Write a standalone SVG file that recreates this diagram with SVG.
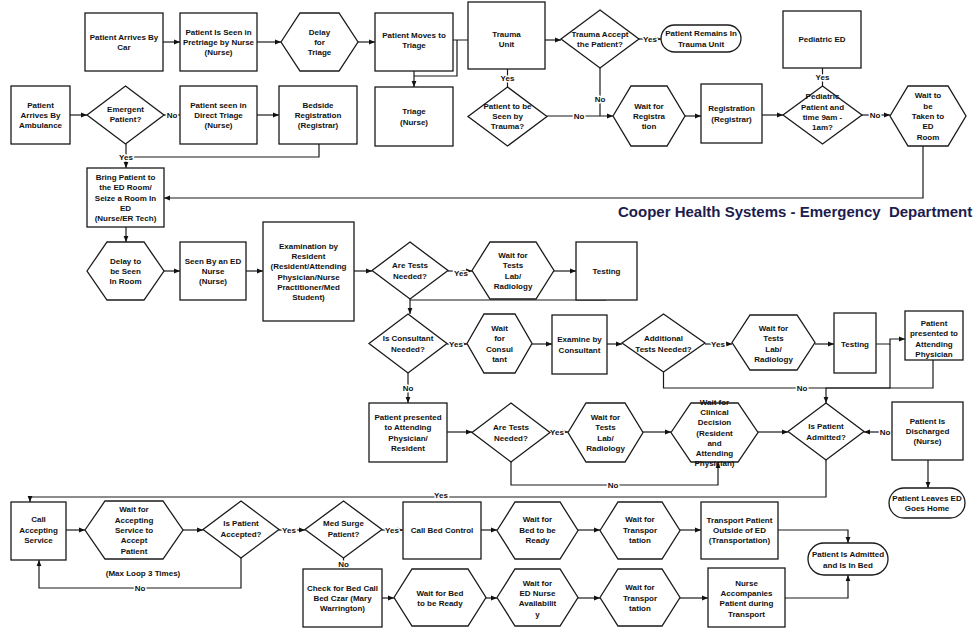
<svg xmlns="http://www.w3.org/2000/svg" width="976" height="628" viewBox="0 0 976 628">
<defs>
<marker id="ah" viewBox="0 0 10 10" refX="10" refY="5" markerWidth="6" markerHeight="6" markerUnits="userSpaceOnUse" orient="auto"><path d="M0,1 L10,5 L0,9 z" fill="#111"/></marker>
<style>
.b{fill:#fff;stroke:#1a1a1a;stroke-width:1.3}
.t{font-family:"Liberation Sans",Arial,sans-serif;font-size:8px;font-weight:bold;fill:#111;text-anchor:middle}
.c{fill:none;stroke:#1a1a1a;stroke-width:1.2}
.a{marker-end:url(#ah)}
.l{font-family:"Liberation Sans",Arial,sans-serif;font-size:8px;font-weight:bold;fill:#111;text-anchor:middle;paint-order:stroke;stroke:#fff;stroke-width:3px;stroke-linejoin:round}
.title{font-family:"Liberation Sans",Arial,sans-serif;font-size:15px;font-weight:bold;fill:#1c1c4e}
</style>
</defs>
<rect width="976" height="628" fill="#fff"/>

<!-- connectors -->
<g id="connectors">
<path class="c a" d="M163,42H180"/>
<path class="c a" d="M257,42H281"/>
<path class="c a" d="M358,42H375"/>
<path class="c a" d="M414,71V87"/>
<path class="c" d="M453,40H468M457,40V76H414"/>
<path class="c a" d="M545,40H561"/>
<path class="c a" d="M639,39H661"/>
<path class="c" d="M600,68V116"/>
<path class="c a" d="M547,116H613"/>
<path class="c" d="M507.5,87V69"/>
<path class="c a" d="M685,116H701"/>
<path class="c a" d="M762,115H783"/>
<path class="c" d="M822.5,86V68"/>
<path class="c a" d="M862,115H890"/>
<path class="c a" d="M923,146V198H164"/>
<path class="c a" d="M70,115H87"/>
<path class="c a" d="M164,115H180"/>
<path class="c a" d="M257,115H279"/>
<path class="c a" d="M126,144V168"/>
<path class="c" d="M319,144V157H130"/>
<path class="c a" d="M126,227V242"/>
<path class="c a" d="M164,271H180"/>
<path class="c a" d="M246,271H263"/>
<path class="c a" d="M354,271H372"/>
<path class="c a" d="M448,271H472"/>
<path class="c a" d="M554,271H576"/>
<path class="c" d="M606,300H410"/>
<path class="c a" d="M410,299V314"/>
<path class="c a" d="M447,344H467"/>
<path class="c a" d="M532,344H552"/>
<path class="c a" d="M607,344H622"/>
<path class="c a" d="M705,344H732"/>
<path class="c a" d="M815,344H834"/>
<path class="c a" d="M876,344H890V339H905"/>
<path class="c" d="M663.5,372V388H890V344"/>
<path class="c a" d="M933,360V388H826V403"/>
<path class="c a" d="M408,373V403"/>
<path class="c a" d="M447,432H472"/>
<path class="c a" d="M550,432H568"/>
<path class="c a" d="M511,462V485H718V462"/>
<path class="c a" d="M643,432H671"/>
<path class="c a" d="M758,432H788"/>
<path class="c a" d="M892,432H864"/>
<path class="c a" d="M928,460V488"/>
<path class="c a" d="M826,460V497H30V502"/>
<path class="c a" d="M66,530H85"/>
<path class="c a" d="M183,530H203"/>
<path class="c a" d="M279,530H305"/>
<path class="c a" d="M241,558V588H39V560"/>
<path class="c a" d="M382,530H403"/>
<path class="c a" d="M343.5,558V569"/>
<path class="c a" d="M481,530H497"/>
<path class="c a" d="M578,530H600"/>
<path class="c a" d="M680,530H701"/>
<path class="c a" d="M778,530H848V543"/>
<path class="c a" d="M382,598H394"/>
<path class="c a" d="M486,598H497"/>
<path class="c a" d="M578,598H600"/>
<path class="c a" d="M680,598H708"/>
<path class="c a" d="M785,598H848V575"/>
<!-- branch labels -->
<text class="l" x="650" y="42">Yes</text>
<text class="l" x="600" y="102">No</text>
<text class="l" x="579" y="119">No</text>
<text class="l" x="507.5" y="81">Yes</text>
<text class="l" x="822.5" y="80">Yes</text>
<text class="l" x="875" y="118">No</text>
<text class="l" x="172" y="118">No</text>
<text class="l" x="126" y="160">Yes</text>
<text class="l" x="461" y="276">Yes</text>
<text class="l" x="410" y="325">No</text>
<text class="l" x="456" y="347">Yes</text>
<text class="l" x="718" y="347">Yes</text>
<text class="l" x="802" y="391">No</text>
<text class="l" x="408" y="391">No</text>
<text class="l" x="557" y="435">Yes</text>
<text class="l" x="613" y="488">No</text>
<text class="l" x="885" y="435">No</text>
<text class="l" x="441" y="498">Yes</text>
<text class="l" x="289" y="533">Yes</text>
<text class="l" x="140" y="591">No</text>
<text class="l" x="392" y="533">Yes</text>
<text class="l" x="343.5" y="567">No</text>
</g>

<!-- row 1 -->
<g id="n_car"><rect class="b" x="85" y="13" width="78" height="58"/><text class="t" x="124" y="39.9">Patient Arrives By<tspan x="124" dy="10.3">Car</tspan></text></g>
<g id="n_pretriage"><rect class="b" x="180" y="13" width="77" height="58"/><text class="t" x="218.5" y="34.7">Patient Is Seen in<tspan x="218.5" dy="10.3">Pretriage by Nurse</tspan><tspan x="218.5" dy="10.3">(Nurse)</tspan></text></g>
<g id="n_delay_triage"><polygon class="b" points="281,42 300,13 339,13 358,42 339,71 300,71"/><text class="t" x="319.5" y="34.7">Delay<tspan x="319.5" dy="10.3">for</tspan><tspan x="319.5" dy="10.3">Triage</tspan></text></g>
<g id="n_moves"><rect class="b" x="375" y="13" width="78" height="58"/><text class="t" x="414" y="37.9">Patient Moves to<tspan x="414" dy="10.3">Triage</tspan></text></g>
<g id="n_trauma_unit"><rect class="b" x="468" y="2" width="77" height="67"/><text class="t" x="506.5" y="36.9">Trauma<tspan x="506.5" dy="10.3">Unit</tspan></text></g>
<g id="n_trauma_accept"><polygon class="b" points="600,10 639,39 600,68 561,39"/><text class="t" x="600" y="36.9">Trauma Accept<tspan x="600" dy="10.3">the Patient?</tspan></text></g>
<g id="n_remains"><rect class="b" x="661" y="25" width="80" height="27" rx="13.5"/><text class="t" x="701" y="36.4">Patient Remains In<tspan x="701" dy="10.3">Trauma Unit</tspan></text></g>
<g id="n_ped_ed"><rect class="b" x="783" y="11" width="78" height="57"/><text class="t" x="822" y="42">Pediatric ED</text></g>

<!-- row 2 -->
<g id="n_ambulance"><rect class="b" x="11" y="86" width="59" height="58"/><text class="t" x="40.5" y="107.7">Patient<tspan x="40.5" dy="10.3">Arrives By</tspan><tspan x="40.5" dy="10.3">Ambulance</tspan></text></g>
<g id="n_emergent"><polygon class="b" points="125.5,86 164,115 125.5,144 87,115"/><text class="t" x="125.5" y="111.9">Emergent<tspan x="125.5" dy="10.3">Patient?</tspan></text></g>
<g id="n_direct"><rect class="b" x="180" y="86" width="77" height="58"/><text class="t" x="218.5" y="107.7">Patient seen in<tspan x="218.5" dy="10.3">Direct Triage</tspan><tspan x="218.5" dy="10.3">(Nurse)</tspan></text></g>
<g id="n_bedside"><rect class="b" x="279" y="86" width="78" height="58"/><text class="t" x="318" y="107.7">Bedside<tspan x="318" dy="10.3">Registration</tspan><tspan x="318" dy="10.3">(Registrar)</tspan></text></g>
<g id="n_triage"><rect class="b" x="375" y="87" width="78" height="59"/><text class="t" x="414" y="114.3">Triage<tspan x="414" dy="10.3">(Nurse)</tspan></text></g>
<g id="n_to_trauma"><polygon class="b" points="507.5,87 547,116.5 507.5,146 468,116.5"/><text class="t" x="507.5" y="108.7">Patient to be<tspan x="507.5" dy="10.3">Seen by</tspan><tspan x="507.5" dy="10.3">Trauma?</tspan></text></g>
<g id="n_wait_reg"><polygon class="b" points="613,116 631,86 667,86 685,116 667,146 631,146"/><text class="t" x="649" y="108.7">Wait for<tspan x="649" dy="10.3">Registra</tspan><tspan x="649" dy="10.3">tion</tspan></text></g>
<g id="n_registration"><rect class="b" x="701" y="84" width="61" height="59"/><text class="t" x="731.5" y="111.4">Registration<tspan x="731.5" dy="10.3">(Registrar)</tspan></text></g>
<g id="n_pediatric"><polygon class="b" points="822.5,86 862,115 822.5,144 783,115"/><text class="t" x="822.5" y="99.3">Pediatric<tspan x="822.5" dy="10.3">Patient and</tspan><tspan x="822.5" dy="10.3">time 9am -</tspan><tspan x="822.5" dy="10.3">1am?</tspan></text></g>
<g id="n_wait_room"><polygon class="b" points="890,116 908,86 948,86 966,116 948,146 908,146"/><text class="t" x="928" y="98.4">Wait to<tspan x="928" dy="10.3">be</tspan><tspan x="928" dy="10.3">Taken to</tspan><tspan x="928" dy="10.3">ED</tspan><tspan x="928" dy="10.3">Room</tspan></text></g>

<!-- row 3 -->
<g id="n_bring"><rect class="b" x="87" y="168" width="77" height="59"/><text class="t" x="125.5" y="179.9">Bring Patient to<tspan x="125.5" dy="10.3">the ED Room/</tspan><tspan x="125.5" dy="10.3">Seize a Room In</tspan><tspan x="125.5" dy="10.3">ED</tspan><tspan x="125.5" dy="10.3">(Nurse/ER Tech)</tspan></text></g>
<text class="title" x="618" y="217">Cooper Health Systems - Emergency&#160; Department</text>
<g id="n_delay_room"><polygon class="b" points="87,271 107,242 144,242 164,271 144,300 107,300"/><text class="t" x="125.5" y="263.7">Delay to<tspan x="125.5" dy="10.3">be Seen</tspan><tspan x="125.5" dy="10.3">In Room</tspan></text></g>
<g id="n_seen_nurse"><rect class="b" x="180" y="242" width="66" height="58"/><text class="t" x="213" y="263.7">Seen By an ED<tspan x="213" dy="10.3">Nurse</tspan><tspan x="213" dy="10.3">(Nurse)</tspan></text></g>
<g id="n_exam"><rect class="b" x="263" y="222" width="91" height="99"/><text class="t" x="308.5" y="248.7">Examination by<tspan x="308.5" dy="10.3">Resident</tspan><tspan x="308.5" dy="10.3">(Resident/Attending</tspan><tspan x="308.5" dy="10.3">Physician/Nurse</tspan><tspan x="308.5" dy="10.3">Practitioner/Med</tspan><tspan x="308.5" dy="10.3">Student)</tspan></text></g>
<g id="n_tests1"><polygon class="b" points="410,242 448,270.5 410,299 372,270.5"/><text class="t" x="410" y="268.4">Are Tests<tspan x="410" dy="10.3">Needed?</tspan></text></g>
<g id="n_wait_tests1"><polygon class="b" points="472,270.5 490,242 536,242 554,270.5 536,299 490,299"/><text class="t" x="513" y="258">Wait for<tspan x="513" dy="10.3">Tests</tspan><tspan x="513" dy="10.3">Lab/</tspan><tspan x="513" dy="10.3">Radiology</tspan></text></g>
<g id="n_testing1"><rect class="b" x="576" y="242" width="61" height="58"/><text class="t" x="606.5" y="274">Testing</text></g>

<!-- row 4 -->
<g id="n_consultant"><polygon class="b" points="408,314 447,343.5 408,373 369,343.5"/><text class="t" x="408" y="341.4">Is Consultant<tspan x="408" dy="10.3">Needed?</tspan></text></g>
<g id="n_wait_consult"><polygon class="b" points="467,343.5 484,314 515,314 532,343.5 515,373 484,373"/><text class="t" x="499.5" y="331">Wait<tspan x="499.5" dy="10.3">for</tspan><tspan x="499.5" dy="10.3">Consul</tspan><tspan x="499.5" dy="10.3">tant</tspan></text></g>
<g id="n_examine_consult"><rect class="b" x="552" y="315" width="55" height="59"/><text class="t" x="579.5" y="342.4">Examine by<tspan x="579.5" dy="10.3">Consultant</tspan></text></g>
<g id="n_additional"><polygon class="b" points="663.5,314 705,343 663.5,372 622,343"/><text class="t" x="663.5" y="341.4">Additional<tspan x="663.5" dy="10.3">Tests Needed?</tspan></text></g>
<g id="n_wait_tests3"><polygon class="b" points="732,342.5 750,315 797,315 815,342.5 797,370 750,370"/><text class="t" x="773.5" y="331">Wait for<tspan x="773.5" dy="10.3">Tests</tspan><tspan x="773.5" dy="10.3">Lab/</tspan><tspan x="773.5" dy="10.3">Radiology</tspan></text></g>
<g id="n_testing2"><rect class="b" x="834" y="313" width="42" height="60"/><text class="t" x="855" y="347">Testing</text></g>
<g id="n_presented_attending"><rect class="b" x="905" y="311" width="58" height="49"/><text class="t" x="934" y="326">Patient<tspan x="934" dy="10.3">presented to</tspan><tspan x="934" dy="10.3">Attending</tspan><tspan x="934" dy="10.3">Physician</tspan></text></g>

<!-- row 5 -->
<g id="n_presented_resident"><rect class="b" x="369" y="403" width="78" height="59"/><text class="t" x="408" y="420">Patient presented<tspan x="408" dy="10.3">to Attending</tspan><tspan x="408" dy="10.3">Physician/</tspan><tspan x="408" dy="10.3">Resident</tspan></text></g>
<g id="n_tests2"><polygon class="b" points="511,403 550,432.5 511,462 472,432.5"/><text class="t" x="511" y="430.4">Are Tests<tspan x="511" dy="10.3">Needed?</tspan></text></g>
<g id="n_wait_tests2"><polygon class="b" points="568,432.5 586,403 625,403 643,432.5 625,462 586,462"/><text class="t" x="605.5" y="420">Wait for<tspan x="605.5" dy="10.3">Tests</tspan><tspan x="605.5" dy="10.3">Lab/</tspan><tspan x="605.5" dy="10.3">Radiology</tspan></text></g>
<g id="n_clinical"><polygon class="b" points="671,432.5 691,403 738,403 758,432.5 738,462 691,462"/><text class="t" x="714.5" y="404.6">Wait for<tspan x="714.5" dy="10.3">Clinical</tspan><tspan x="714.5" dy="10.3">Decision</tspan><tspan x="714.5" dy="10.3">(Resident</tspan><tspan x="714.5" dy="10.3">and</tspan><tspan x="714.5" dy="10.3">Attending</tspan><tspan x="714.5" dy="10.3">Physician)</tspan></text></g>
<g id="n_admitted"><polygon class="b" points="826,403 864,431.5 826,460 788,431.5"/><text class="t" x="826" y="429.4">Is Patient<tspan x="826" dy="10.3">Admitted?</tspan></text></g>
<g id="n_discharged"><rect class="b" x="892" y="402" width="71" height="58"/><text class="t" x="927.5" y="423.7">Patient Is<tspan x="927.5" dy="10.3">Discharged</tspan><tspan x="927.5" dy="10.3">(Nurse)</tspan></text></g>
<g id="n_leaves"><rect class="b" x="889" y="488" width="76" height="30" rx="15"/><text class="t" x="927" y="500.9">Patient Leaves ED<tspan x="927" dy="10.3">Goes Home</tspan></text></g>

<!-- row 6 -->
<g id="n_call_accept"><rect class="b" x="11" y="502" width="55" height="58"/><text class="t" x="38.5" y="522.2">Call<tspan x="38.5" dy="10.3">Accepting</tspan><tspan x="38.5" dy="10.3">Service</tspan></text></g>
<g id="n_wait_accept"><polygon class="b" points="85,530 105,501 163,501 183,530 163,559 105,559"/><text class="t" x="134" y="512.4">Wait for<tspan x="134" dy="10.3">Accepting</tspan><tspan x="134" dy="10.3">Service to</tspan><tspan x="134" dy="10.3">Accept</tspan><tspan x="134" dy="10.3">Patient</tspan></text></g>
<g id="n_accepted"><polygon class="b" points="241,501 279,529.5 241,558 203,529.5"/><text class="t" x="241" y="526.4">Is Patient<tspan x="241" dy="10.3">Accepted?</tspan></text></g>
<text class="t" x="143" y="576">(Max Loop 3 Times)</text>
<g id="n_med_surge"><polygon class="b" points="343.5,501 382,529.5 343.5,558 305,529.5"/><text class="t" x="343.5" y="526.4">Med Surge<tspan x="343.5" dy="10.3">Patient?</tspan></text></g>
<g id="n_call_bed"><rect class="b" x="403" y="502" width="78" height="57"/><text class="t" x="442" y="533">Call Bed Control</text></g>
<g id="n_wait_bed1"><polygon class="b" points="497,530.5 515,502 560,502 578,530.5 560,559 515,559"/><text class="t" x="537.5" y="522.2">Wait for<tspan x="537.5" dy="10.3">Bed to be</tspan><tspan x="537.5" dy="10.3">Ready</tspan></text></g>
<g id="n_wait_transport1"><polygon class="b" points="600,530.5 618,502 662,502 680,530.5 662,559 618,559"/><text class="t" x="640" y="522.2">Wait for<tspan x="640" dy="10.3">Transpor</tspan><tspan x="640" dy="10.3">tation</tspan></text></g>
<g id="n_transport"><rect class="b" x="701" y="502" width="77" height="57"/><text class="t" x="739.5" y="522.7">Transport Patient<tspan x="739.5" dy="10.3">Outside of ED</tspan><tspan x="739.5" dy="10.3">(Transportation)</tspan></text></g>
<g id="n_in_bed"><rect class="b" x="808" y="543" width="80" height="32" rx="16"/><text class="t" x="848" y="557.4">Patient Is Admitted<tspan x="848" dy="10.3">and Is In Bed</tspan></text></g>

<!-- row 7 -->
<g id="n_check_bed"><rect class="b" x="303" y="569" width="79" height="58"/><text class="t" x="342.5" y="590.7">Check for Bed Call<tspan x="342.5" dy="10.3">Bed Czar (Mary</tspan><tspan x="342.5" dy="10.3">Warrington)</tspan></text></g>
<g id="n_wait_bed2"><polygon class="b" points="394,597.5 412,569 468,569 486,597.5 468,626 412,626"/><text class="t" x="440" y="595.9">Wait for Bed<tspan x="440" dy="10.3">to be Ready</tspan></text></g>
<g id="n_wait_nurse"><polygon class="b" points="497,597.5 515,569 560,569 578,597.5 560,626 515,626"/><text class="t" x="537.5" y="585.6">Wait for<tspan x="537.5" dy="10.3">ED Nurse</tspan><tspan x="537.5" dy="10.3">Availabilit</tspan><tspan x="537.5" dy="10.3">y</tspan></text></g>
<g id="n_wait_transport2"><polygon class="b" points="600,597.5 618,569 662,569 680,597.5 662,626 618,626"/><text class="t" x="640" y="590.2">Wait for<tspan x="640" dy="10.3">Transpor</tspan><tspan x="640" dy="10.3">tation</tspan></text></g>
<g id="n_nurse_acc"><rect class="b" x="708" y="568" width="77" height="59"/><text class="t" x="746.5" y="585.6">Nurse<tspan x="746.5" dy="10.3">Accompanies</tspan><tspan x="746.5" dy="10.3">Patient during</tspan><tspan x="746.5" dy="10.3">Transport</tspan></text></g>
</svg>
